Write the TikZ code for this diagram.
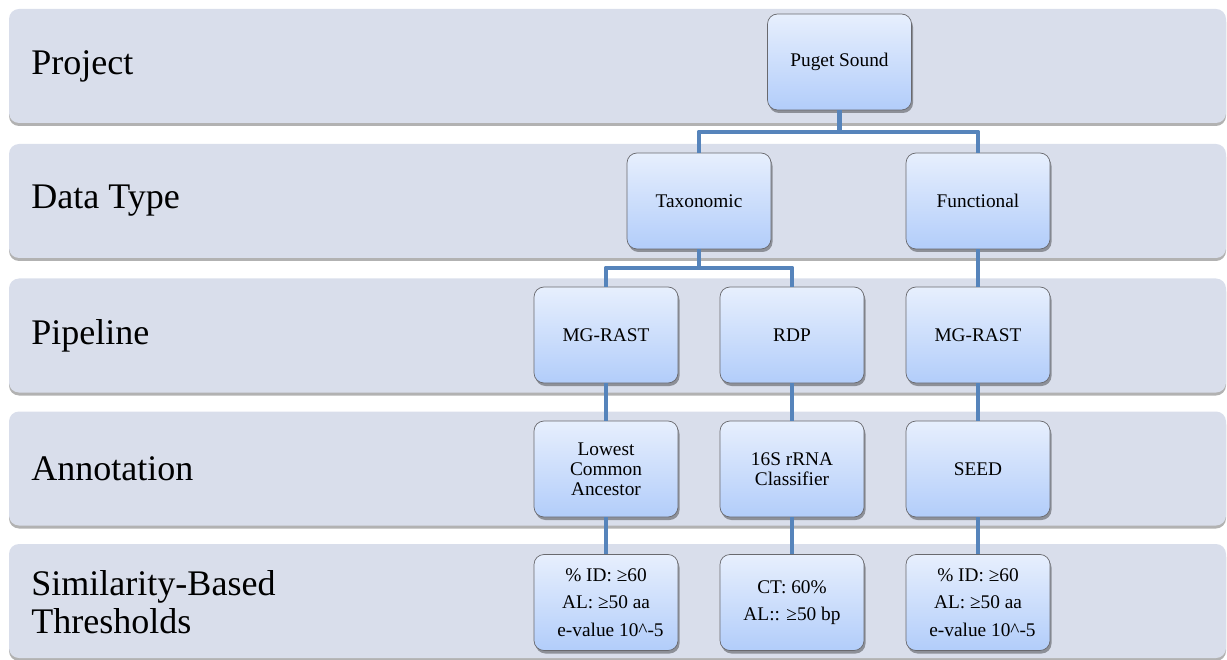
\documentclass[tikz,border=0pt]{standalone}
\usepackage{fontspec}
\setmainfont{Liberation Serif}
\usetikzlibrary{positioning, shadows}

\definecolor{lanefill}{RGB}{217,222,235}
\definecolor{boxtop}{RGB}{231,239,253}
\definecolor{boxbot}{RGB}{178,205,250}
\definecolor{boxline}{RGB}{105,105,110}
\definecolor{linkblue}{RGB}{86,132,187}

\begin{document}
\begin{tikzpicture}[
  lane/.style={
    fill=lanefill, rounded corners=0.2cm,
    minimum width=24.34cm, minimum height=2.28cm,
    drop shadow={shadow xshift=0cm, shadow yshift=-0.06cm, opacity=0.3, fill=black}
  },
  lanetext/.style={
    anchor=west, inner sep=0pt, align=left,
    font=\fontsize{20.5}{21.5}\selectfont
  },
  stage/.style={
    draw=boxline, thin, rounded corners=0.2cm,
    top color=boxtop, bottom color=boxbot,
    align=center, inner sep=2pt, minimum width=2.88cm, minimum height=1.92cm,
    font=\fontsize{11}{11.5}\selectfont,
    drop shadow={shadow xshift=0.03cm, shadow yshift=-0.06cm, opacity=0.35, fill=black}
  },
  cutoff/.style={
    stage, font=\fontsize{11}{15.5}\selectfont
  },
  link/.style={draw=linkblue, line width=2.8pt, line join=round}
]
\useasboundingbox (0,0) rectangle (24.54,-13.2);

% Lanes
\node[lane] (laneproj) at (12.35, -1.32) {};
\node[lane] (lanetype) at (12.35, -4.02) {};
\node[lane] (lanepipe) at (12.35, -6.71) {};
\node[lane] (laneanno) at (12.35, -9.37) {};
\node[lane] (lanethr)  at (12.35, -12.02) {};

\node[lanetext] (lblproj) at (0.62, -1.32) {Project};
\node[lanetext] (lbltype) at (0.62, -4.02) {Data Type};
\node[lanetext] (lblpipe) at (0.62, -6.71) {Pipeline};
\node[lanetext] (lblanno) at (0.62, -9.37) {Annotation};
\node[lanetext] (lblthr)  at (0.62, -12.04) {Similarity-Based\\Thresholds};

% Project and data type
\node[stage] (puget) at (16.79, -1.24) {Puget Sound};
\node[stage] (taxo)  at (13.98, -4.02) {Taxonomic};
\node[stage] (func)  at (19.56, -4.02) {Functional};

% Pipelines
\node[stage] (mgrast)  at (12.12, -6.70) {MG-RAST};
\node[stage] (rdp)     at (15.84, -6.70) {RDP};
\node[stage] (mgrastf) at (19.56, -6.70) {MG-RAST};

% Annotation
\node[stage] (lca)  at (12.12, -9.38) {Lowest\\Common\\Ancestor};
\node[stage] (rrna) at (15.84, -9.38) {16S rRNA\\Classifier};
\node[stage] (seed) at (19.56, -9.38) {SEED};

% Thresholds
\node[cutoff] (thrlca)  at (12.12, -12.05) {\% ID: ≥60\\AL: ≥50 aa\\\hspace*{0.18cm}e-value 10\textasciicircum-5};
\node[cutoff] (thrrrna) at (15.84, -12.05) {CT: 60\%\\AL:: ≥50 bp};
\node[cutoff] (thrseed) at (19.56, -12.05) {\% ID: ≥60\\AL: ≥50 aa\\\hspace*{0.18cm}e-value 10\textasciicircum-5};

% Branch points
\coordinate (split1) at (16.79, -2.64);
\coordinate (split2) at (13.98, -5.36);

% Tree links
\draw[link] (puget) -- (split1);
\draw[link] (taxo.north) |- (split1) -| (func.north);
\draw[link] (taxo) -- (split2);
\draw[link] (mgrast.north) |- (split2) -| (rdp.north);
\draw[link] (func) -- (mgrastf);

\draw[link] (mgrast)  -- (lca);
\draw[link] (rdp)     -- (rrna);
\draw[link] (mgrastf) -- (seed);
\draw[link] (lca)  -- (thrlca);
\draw[link] (rrna) -- (thrrrna);
\draw[link] (seed) -- (thrseed);
\end{tikzpicture}
\end{document}
